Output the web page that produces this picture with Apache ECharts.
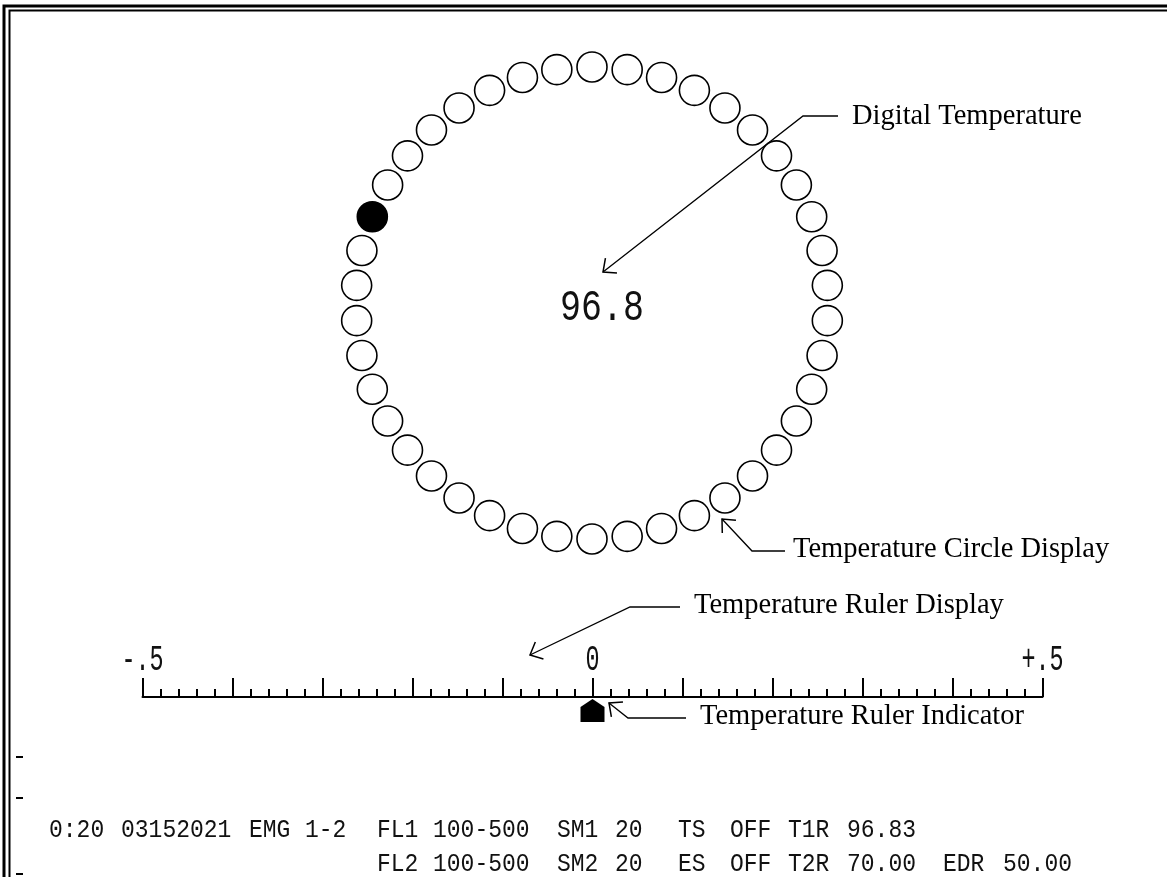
<!DOCTYPE html>
<html><head><meta charset="utf-8">
<script src="https://cdn.jsdelivr.net/npm/echarts@6/dist/echarts.min.js"></script>
<style>html,body{margin:0;padding:0;background:#fff}#c{width:1167px;height:877px}</style>
</head><body><div id="c"></div>
<script>
// ---------- data ----------
// 42 lamps round the temperature circle, clockwise from the top; 1 = lit
const ringStates = [0,0,0,0,0,0,0,0,0,0, 0,0,0,0,0,0,0,0,0,0,
                    0,0,0,0,0,0,0,0,0,0, 0,0,0,0,1,0,0,0,0,0, 0,0];
const digitalTemp = '96.8';
const rulerMin = -0.5, rulerMax = 0.5, rulerMajor = 0.1;
const rulerLabelValues = [-0.5, 0, 0.5];
const rulerLabelTexts = ['-.5', '0', '+.5'];
const indicatorValue = 0;
const annotationTexts = ['Digital Temperature', 'Temperature Circle Display',
                         'Temperature Ruler Display', 'Temperature Ruler Indicator'];
const statusRow1 = ['0:20','03152021','EMG','1-2','FL1','100-500','SM1','20','TS','OFF','T1R','96.83'];
const statusRow2 = ['FL2','100-500','SM2','20','ES','OFF','T2R','70.00','EDR','50.00'];

// ---------- layout ----------
const INK = '#000';
const row1X = [49,121,249,305,377,433,557,615,678,730,788,847];
const row2X = [377,433,557,615,678,730,788,847,943,1003];
const annoLayout = [
  {text:[852,117], tip:[603,272], elbow:[803,116], end:[838,116]},
  {text:[793,550], tip:[722,519], elbow:[752,551], end:[785,551]},
  {text:[694,606], tip:[530,655], elbow:[630,607], end:[680,607]},
  {text:[700,717], tip:[609,703], elbow:[628,718], end:[686,718]}
];

const chart = echarts.init(document.getElementById('c'), null, {renderer:'canvas', width:1167, height:877});
const hiddenAxis = {show:false, axisLine:{show:false}, axisTick:{show:false}, axisLabel:{show:false}, splitLine:{show:false}};
chart.setOption({
  animation:false,
  backgroundColor:'#fff',
  polar:{center:[592,303], radius:236},
  angleAxis:Object.assign({type:'value', min:0, max:ringStates.length, startAngle:90, clockwise:true}, hiddenAxis),
  radiusAxis:Object.assign({type:'value', min:0, max:1}, hiddenAxis),
  grid:{left:142.5, right:124.5, top:600, bottom:180},
  xAxis:{type:'value', min:rulerMin, max:rulerMax, interval:rulerMajor,
    axisLine:{show:true, onZero:false, lineStyle:{color:INK, width:2}},
    axisTick:{show:true, inside:true, length:19, lineStyle:{color:INK, width:2}},
    minorTick:{show:true, splitNumber:5, length:8, lineStyle:{color:INK, width:2}},
    axisLabel:{show:false}, splitLine:{show:false}, minorSplitLine:{show:false}},
  yAxis:Object.assign({type:'value', min:0, max:1}, hiddenAxis),
  series:[
    {type:'scatter', coordinateSystem:'polar', symbol:'circle', symbolSize:30, silent:true,
     data:ringStates.map((s,i)=>({value:[1,i], itemStyle:{color: s ? INK : '#fff'}})),
     itemStyle:{borderColor:INK, borderWidth:1.6, opacity:1}},
    {type:'scatter', coordinateSystem:'cartesian2d', silent:true, clip:false, z:5,
     symbol:'path://M12,0 L24,8 L24,23 L0,23 L0,8 Z', symbolSize:[24,23], symbolOffset:[0,13.5],
     data:[[indicatorValue,0]], itemStyle:{color:INK, opacity:1}}
  ]
});

// ---------- decorations ----------
const g = [];
// double frame
g.push({type:'polyline', shape:{points:[[4,877],[4,6],[1167,6]]}, style:{stroke:INK, lineWidth:3, fill:null}});
g.push({type:'polyline', shape:{points:[[9.5,877],[9.5,10.5],[1167,10.5]]}, style:{stroke:INK, lineWidth:2, fill:null}});
[757,798,874].forEach(y=>g.push({type:'line', shape:{x1:16,y1:y,x2:23,y2:y}, style:{stroke:INK, lineWidth:2}}));

// digital temperature
g.push({type:'text', x:602, y:308, scaleX:0.97, scaleY:1.25,
  style:{text:digitalTemp, font:'36px "Liberation Mono"', fill:'#111', textAlign:'center', textVerticalAlign:'middle'}});

// ruler labels via axis scale
rulerLabelValues.forEach((v,i)=>{
  const px = chart.convertToPixel({xAxisIndex:0}, v);
  g.push({type:'text', x:px, y:679, scaleX:0.9, scaleY:1.45,
    style:{text:rulerLabelTexts[i], font:'26px "Liberation Mono"', fill:'#111', textAlign:'center', textVerticalAlign:'bottom'}});
});

// annotations
annoLayout.forEach((a,i)=>{
  g.push({type:'polyline', shape:{points:[a.end, a.elbow, a.tip]}, style:{stroke:INK, lineWidth:1.3, fill:null}});
  const dx = a.elbow[0]-a.tip[0], dy = a.elbow[1]-a.tip[1];
  const ang = Math.atan2(dy, dx), L = 14, sp = 42*Math.PI/180;
  const p1 = [a.tip[0]+L*Math.cos(ang-sp), a.tip[1]+L*Math.sin(ang-sp)];
  const p2 = [a.tip[0]+L*Math.cos(ang+sp), a.tip[1]+L*Math.sin(ang+sp)];
  g.push({type:'polyline', shape:{points:[p1, a.tip, p2]}, style:{stroke:INK, lineWidth:1.5, fill:null}});
  g.push({type:'text', x:a.text[0], y:a.text[1],
    style:{text:annotationTexts[i], font:'28.5px "Liberation Serif"', fill:INK, textAlign:'left', textVerticalAlign:'middle'}});
});

// status rows
function row(tokens, xs, y){
  tokens.forEach((t,i)=>g.push({type:'text', x:xs[i], y:y, scaleY:1.12,
    style:{text:t, font:'23px "Liberation Mono"', fill:'#111', textAlign:'left', textVerticalAlign:'middle'}}));
}
row(statusRow1, row1X, 830);
row(statusRow2, row2X, 864);

chart.setOption({graphic:{elements:g}});
</script>
</body></html>
